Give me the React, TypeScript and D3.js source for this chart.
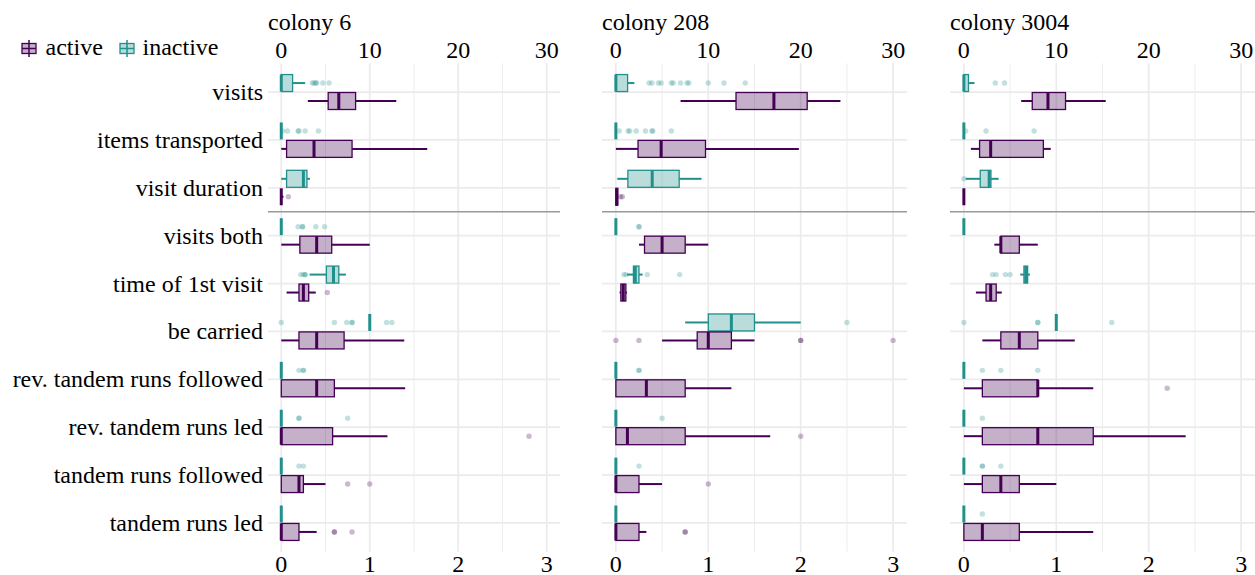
import * as d3 from "d3";

// row labels (top three rows use the 0-30 axis, the rest the 0-3 axis)
const rows = [
  "visits",
  "items transported",
  "visit duration",
  "visits both",
  "time of 1st visit",
  "be carried",
  "rev. tandem runs followed",
  "rev. tandem runs led",
  "tandem runs followed",
  "tandem runs led",
];
const topRows = 3;
const colonies = ["colony 6", "colony 208", "colony 3004"];
const topTicks = [0, 10, 20, 30];
const bottomTicks = [0, 1, 2, 3];
const minorTicks = [0.5, 1.5, 2.5];

// [lower whisker, q1, median, q3, upper whisker]
type Stats = [number, number, number, number, number];
const zero: Stats = [0, 0, 0, 0, 0];

const c6Active: Stats[] = [
  [3.0, 5.3, 6.5, 8.4, 13.0],
  [0, 0.6, 3.7, 8.0, 16.5],
  [0, 0, 0, 0, 0.25],
  [0, 0.21, 0.4, 0.57, 1.0],
  [0.06, 0.2, 0.25, 0.31, 0.39],
  [0, 0.2, 0.4, 0.71, 1.39],
  [0, 0, 0.4, 0.6, 1.4],
  [0, 0, 0, 0.58, 1.2],
  [0, 0, 0.2, 0.25, 0.5],
  [0, 0, 0, 0.2, 0.4],
];
const c6ActiveOut: number[][] = [[], [], [0.8], [], [0.52], [], [], [2.8], [0.75, 1.0], [0.6, 0.6, 0.8]];
const c6Inactive: Stats[] = [
  [0, 0, 0, 1.28, 2.7],
  zero,
  [0, 0.6, 2.5, 2.9, 3.25],
  zero,
  [0.32, 0.51, 0.59, 0.65, 0.73],
  [1, 1, 1, 1, 1],
  zero,
  zero,
  zero,
  zero,
];
const c6InactiveOut: number[][] = [
  [3.5, 3.7, 3.9, 4.0, 4.7, 5.4],
  [0.15, 0.7, 1.9, 2.0, 2.7, 4.2],
  [],
  [0.19, 0.24, 0.24, 0.39, 0.49],
  [0.22, 0.25, 0.27, 0.27],
  [0, 0.6, 0.74, 0.8, 0.8, 1.19, 1.25],
  [0.2, 0.25, 0.25],
  [0.2, 0.2, 0.75],
  [0.2, 0.25],
  [],
];

const c208Active: Stats[] = [
  [7.0, 13.0, 17.1, 20.7, 24.3],
  [0, 2.4, 4.9, 9.7, 19.8],
  [0, 0, 0.1, 0.2, 0.2],
  [0.25, 0.31, 0.5, 0.75, 1.0],
  [0.04, 0.054, 0.08, 0.108, 0.12],
  [0.5, 0.88, 1.0, 1.25, 1.5],
  [0, 0, 0.33, 0.75, 1.25],
  [0, 0, 0.125, 0.75, 1.67],
  [0, 0, 0, 0.25, 0.5],
  [0, 0, 0, 0.25, 0.33],
];
const c208ActiveOut: number[][] = [[], [], [0.5, 0.7], [], [], [0, 0.25, 2.0, 2.0, 3.0], [], [2.0], [1.0], [0.75, 0.75]];
const c208Inactive: Stats[] = [
  [0, 0, 0, 1.27, 2.0],
  zero,
  [0.15, 1.3, 3.93, 6.85, 9.27],
  zero,
  [0.12, 0.19, 0.21, 0.25, 0.29],
  [0.75, 1.0, 1.25, 1.5, 2.0],
  zero,
  zero,
  zero,
  zero,
];
const c208InactiveOut: number[][] = [
  [3.6, 3.9, 4.6, 4.9, 6.0, 6.2, 7.0, 7.7, 7.9, 10.0, 11.7, 14.0],
  [0.36, 1.33, 1.5, 2.2, 3.2, 3.9, 4.0, 6.0],
  [],
  [0.25, 0.25],
  [0.087, 0.11, 0.34, 0.69],
  [2.5],
  [0.25, 0.25],
  [0.5],
  [0.25],
  [],
];

const c3004Active: Stats[] = [
  [6.2, 7.4, 9.1, 11.0, 15.35],
  [0.76, 1.7, 2.9, 8.6, 9.4],
  [0, 0, 0, 0, 0],
  [0.33, 0.4, 0.4, 0.6, 0.8],
  [0.13, 0.24, 0.29, 0.35, 0.41],
  [0.2, 0.4, 0.6, 0.8, 1.2],
  [0, 0.2, 0.8, 0.8, 1.4],
  [0, 0.2, 0.8, 1.4, 2.4],
  [0, 0.2, 0.4, 0.6, 1.0],
  [0, 0, 0.2, 0.6, 1.4],
];
const c3004ActiveOut: number[][] = [[], [], [], [], [], [], [2.2], [], [], []];
const c3004Inactive: Stats[] = [
  [0, 0, 0, 0.5, 1.15],
  zero,
  [0.2, 1.77, 2.74, 2.93, 3.76],
  zero,
  [0.61, 0.65, 0.67, 0.69, 0.715],
  [1, 1, 1, 1, 1],
  zero,
  zero,
  zero,
  zero,
];
const c3004InactiveOut: number[][] = [
  [3.4, 4.4],
  [0.2, 2.4, 7.6],
  [0],
  [],
  [0.31, 0.35, 0.45, 0.5],
  [0, 0.8, 0.8, 1.6],
  [0.2, 0.4, 0.8],
  [0.2],
  [0.2, 0.2, 0.4],
  [0.2],
];

const ACTIVE = "#440154";
const INACTIVE = "#21908C";
const FONT = "'Liberation Serif', 'Times New Roman', serif";
const FS = 24;

const panels = [
  { left: 268, right: 560, active: c6Active, activeOut: c6ActiveOut, inactive: c6Inactive, inactiveOut: c6InactiveOut },
  { left: 602, right: 907, active: c208Active, activeOut: c208ActiveOut, inactive: c208Inactive, inactiveOut: c208InactiveOut },
  { left: 950, right: 1255, active: c3004Active, activeOut: c3004ActiveOut, inactive: c3004Inactive, inactiveOut: c3004InactiveOut },
];

const panelTop = 63.3;
const panelBottom = 551.7;

function Box({ s, out, cy, h, x, color }: { s: Stats; out: number[]; cy: number; h: number; x: (v: number) => number; color: string }) {
  const [lo, q1, med, q3, hi] = s;
  return (
    <g>
      {out.map((v, i) => (
        <circle key={i} cx={x(v)} cy={cy} r={2.7} fill={color} fillOpacity={0.28} />
      ))}
      <line x1={x(lo)} x2={x(q1)} y1={cy} y2={cy} stroke={color} strokeWidth={2} />
      <line x1={x(q3)} x2={x(hi)} y1={cy} y2={cy} stroke={color} strokeWidth={2} />
      <rect x={x(q1)} y={cy - h / 2} width={x(q3) - x(q1)} height={h} fill={color} fillOpacity={0.31} stroke={color} strokeWidth={1.3} />
      <line x1={x(med)} x2={x(med)} y1={cy - h / 2} y2={cy + h / 2} stroke={color} strokeWidth={3} />
    </g>
  );
}

function LegendKey({ x, y, color }: { x: number; y: number; color: string }) {
  // vertical boxplot glyph, 14 wide x 17 tall
  return (
    <g>
      <line x1={x + 7} x2={x + 7} y1={y} y2={y + 17} stroke={color} strokeWidth={1.5} />
      <rect x={x} y={y + 3.5} width={14} height={10} fill={color} fillOpacity={0.31} stroke={color} strokeWidth={1.3} />
      <line x1={x} x2={x + 14} y1={y + 8.5} y2={y + 8.5} stroke={color} strokeWidth={1.5} />
    </g>
  );
}

export default function App() {
  const y = d3.scalePoint<string>().domain(rows).range([panelTop, panelBottom]).padding(0.6);
  const step = y.step();
  const off = 0.1875 * step;
  const h = 0.355 * step;
  const sepY = ((y(rows[topRows - 1]) as number) + (y(rows[topRows]) as number)) / 2;

  return (
    <svg
      width={1255}
      height={575}
      style={{ position: "absolute", left: 0, top: 0, background: "#fff" }}
      fontFamily={FONT}
      fontSize={FS}
    >
      {/* legend */}
      <LegendKey x={22} y={40} color={ACTIVE} />
      <text x={45.5} y={55}>active</text>
      <LegendKey x={120} y={40} color={INACTIVE} />
      <text x={142.5} y={55}>inactive</text>

      {panels.map((p, pi) => {
        const xb = d3.scaleLinear().domain([-0.15, 3.15]).range([p.left, p.right]);
        const xt = d3.scaleLinear().domain([-1.5, 31.5]).range([p.left, p.right]);
        return (
          <g key={pi}>
            {/* grid */}
            {minorTicks.map((t) => (
              <line key={"m" + t} x1={xb(t)} x2={xb(t)} y1={panelTop} y2={panelBottom} stroke="#EBEBEB" strokeWidth={0.9} />
            ))}
            {bottomTicks.map((t) => (
              <line key={"M" + t} x1={xb(t)} x2={xb(t)} y1={panelTop} y2={panelBottom} stroke="#EBEBEB" strokeWidth={1.7} />
            ))}
            {rows.map((r) => (
              <line key={r} x1={p.left} x2={p.right} y1={y(r)} y2={y(r)} stroke="#EBEBEB" strokeWidth={1.7} />
            ))}
            <line x1={p.left} x2={p.right} y1={sepY} y2={sepY} stroke="#999999" strokeWidth={1.6} />

            {/* title and axes */}
            <text x={p.left} y={30}>{colonies[pi]}</text>
            {topTicks.map((t) => (
              <text key={"t" + t} x={xt(t)} y={58} textAnchor="middle">{t}</text>
            ))}
            {bottomTicks.map((t) => (
              <text key={"b" + t} x={xb(t)} y={571.5} textAnchor="middle">{t}</text>
            ))}
            {pi === 0 &&
              rows.map((r) => (
                <text key={"l" + r} x={263} y={(y(r) as number) + 8} textAnchor="end">{r}</text>
              ))}

            {/* boxes */}
            {rows.map((r, ri) => {
              const x = ri < topRows ? xt : xb;
              const cy = y(r) as number;
              return (
                <g key={"b" + r}>
                  <Box s={p.inactive[ri]} out={p.inactiveOut[ri]} cy={cy - off} h={h} x={x} color={INACTIVE} />
                  <Box s={p.active[ri]} out={p.activeOut[ri]} cy={cy + off} h={h} x={x} color={ACTIVE} />
                </g>
              );
            })}
          </g>
        );
      })}
    </svg>
  );
}
